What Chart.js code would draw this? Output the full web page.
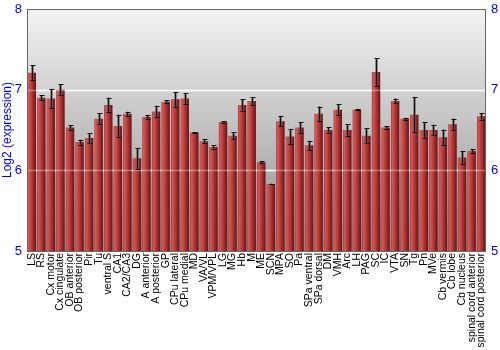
<!DOCTYPE html>
<html><head><meta charset="utf-8">
<script src="https://cdn.jsdelivr.net/npm/chart.js@4/dist/chart.umd.min.js"></script>
<style>html,body{margin:0;padding:0;background:#fff}#wrap{width:500px;height:350px}</style>
</head><body><div id="wrap"><canvas id="c" width="500" height="350"></canvas></div>
<script>
const categories = ["LS","RS","Cx motor","Cx cingulate","OB anterior","OB posterior","Pir","Tu","ventral S","CA1","CA2/CA3","DG","A anterior","A posterior","GP","CPu lateral","CPu medial","MD","VA/VL","VPM/VPL","LG","MG","Hb","M","ME","SCN","MPA","SO","Pa","SPa ventral","SPa dorsal","DM","VMH","Arc","LH","PAG","SC","IC","VTA","SN","Tg","Pn","MVe","Cb vermis","Cb lobe","Cb nucleus","spinal cord anterior","spinal cord posterior"];
const expression = [7.21,6.90,6.89,7.00,6.53,6.35,6.40,6.64,6.81,6.55,6.70,6.15,6.66,6.73,6.85,6.88,6.89,6.47,6.36,6.29,6.60,6.43,6.81,6.86,6.10,5.83,6.61,6.42,6.53,6.31,6.70,6.50,6.75,6.50,6.75,6.43,7.22,6.53,6.86,6.64,6.69,6.50,6.50,6.41,6.57,6.16,6.24,6.67];
const errors = [0.09,0.03,0.12,0.07,0.03,0.03,0.06,0.07,0.09,0.14,0.025,0.13,0.02,0.07,0.017,0.09,0.07,0.005,0.025,0.02,0.01,0.045,0.07,0.05,0.01,0.004,0.065,0.095,0.065,0.055,0.09,0.035,0.07,0.07,0.005,0.09,0.17,0.015,0.03,0.01,0.22,0.095,0.065,0.095,0.07,0.08,0.025,0.04];
const yTicks = [5,6,7,8];

const bgPlugin = {
  id:'bg',
  beforeDraw(chart){
    const {ctx, chartArea:a} = chart;
    const g = ctx.createLinearGradient(0,a.top,0,a.bottom);
    g.addColorStop(0,'#f3f3f3'); g.addColorStop(1,'#8e8e8e');
    ctx.save(); ctx.fillStyle=g; ctx.fillRect(a.left,a.top,a.right-a.left,a.bottom-a.top);
    const y = chart.scales.y;
    ctx.strokeStyle='#ffffff'; ctx.lineWidth=1.5;
    [6,7].forEach(v=>{const p=Math.round(y.getPixelForValue(v))+0.5;ctx.beginPath();ctx.moveTo(a.left,p);ctx.lineTo(a.right,p);ctx.stroke();});
    ctx.restore();
  },
  afterDatasetsDraw(chart){
    const {ctx, chartArea:a} = chart;
    const x = chart.scales.x, y = chart.scales.y;
    ctx.save();
    ctx.strokeStyle='rgba(255,255,255,0.35)'; ctx.lineWidth=1.5;
    [6,7].forEach(v=>{const p=Math.round(y.getPixelForValue(v))+0.5;ctx.beginPath();ctx.moveTo(a.left,p);ctx.lineTo(a.right,p);ctx.stroke();});
    expression.forEach((v,i)=>{
      const px = Math.round(x.getPixelForValue(i))+0.5;
      const t = y.getPixelForValue(v+errors[i]);
      const b = y.getPixelForValue(v-errors[i]);
      ctx.strokeStyle='rgba(90,90,90,0.6)'; ctx.lineWidth=3;
      ctx.beginPath(); ctx.moveTo(px,t); ctx.lineTo(px,b); ctx.stroke();
      ctx.strokeStyle='#111'; ctx.lineWidth=1;
      ctx.beginPath(); ctx.moveTo(px,t); ctx.lineTo(px,b);
      ctx.moveTo(px-2,Math.round(t)+0.5); ctx.lineTo(px+3,Math.round(t)+0.5);
      ctx.moveTo(px-2,Math.round(b)+0.5); ctx.lineTo(px+3,Math.round(b)+0.5);
      ctx.stroke();
    });
    ctx.strokeStyle='#666'; ctx.lineWidth=1;
    ctx.strokeRect(Math.round(a.left)+0.5,Math.round(a.top)+0.5,Math.round(a.right-a.left)-1,Math.round(a.bottom-a.top));
    ctx.restore();
  }
};

function barGrad(c){
  const chart=c.chart, x=chart.scales && chart.scales.x;
  if(!x || c.dataIndex===undefined) return '#b03030';
  const cx = x.getPixelForValue(c.dataIndex);
  const w = (x.width/categories.length)*0.88;
  if(!isFinite(cx) || !isFinite(w) || w<=0) return '#b03030';
  const g = chart.ctx.createLinearGradient(cx-w/2,0,cx+w/2,0);
  g.addColorStop(0,'#9a2a2a');
  g.addColorStop(0.12,'#d45a5a');
  g.addColorStop(0.45,'#bb3c3c');
  g.addColorStop(1,'#6a1212');
  return g;
}

new Chart(document.getElementById('c'),{
  type:'bar',
  data:{labels:categories,datasets:[{data:expression,backgroundColor:barGrad,borderWidth:0,barPercentage:0.88,categoryPercentage:1,base:5}]},
  options:{
    responsive:false,animation:false,
    layout:{padding:{top:9,left:0,right:0,bottom:0}},
    plugins:{legend:{display:false},tooltip:{enabled:false}},
    scales:{
      x:{grid:{display:false,drawTicks:false},border:{display:false},
         ticks:{autoSkip:false,minRotation:90,maxRotation:90,padding:2,color:'#000',font:{family:'Liberation Sans',size:10.5}},
         afterFit(s){s.height=99;}},
      y:{min:5,max:8,position:'left',grid:{display:false,drawTicks:true,tickLength:4,color:'#666'},border:{display:false},
         afterBuildTicks(s){s.ticks=yTicks.map(v=>({value:v}));},
         ticks:{color:'#0000ff',padding:1,font:{family:'Liberation Sans',size:13}},
         title:{display:true,text:'Log2 (expression)',color:'#0000ff',padding:0,font:{family:'Liberation Sans',size:12}},
         afterFit(s){s.width=27;}},
      y2:{min:5,max:8,position:'right',grid:{display:false,drawOnChartArea:false,tickLength:4,color:'#666'},border:{display:false},
         afterBuildTicks(s){s.ticks=yTicks.map(v=>({value:v}));},
         ticks:{color:'#0000ff',padding:1,font:{family:'Liberation Sans',size:13}},
         afterFit(s){s.width=14;}}
    }
  },
  plugins:[bgPlugin]
});
</script></body></html>
